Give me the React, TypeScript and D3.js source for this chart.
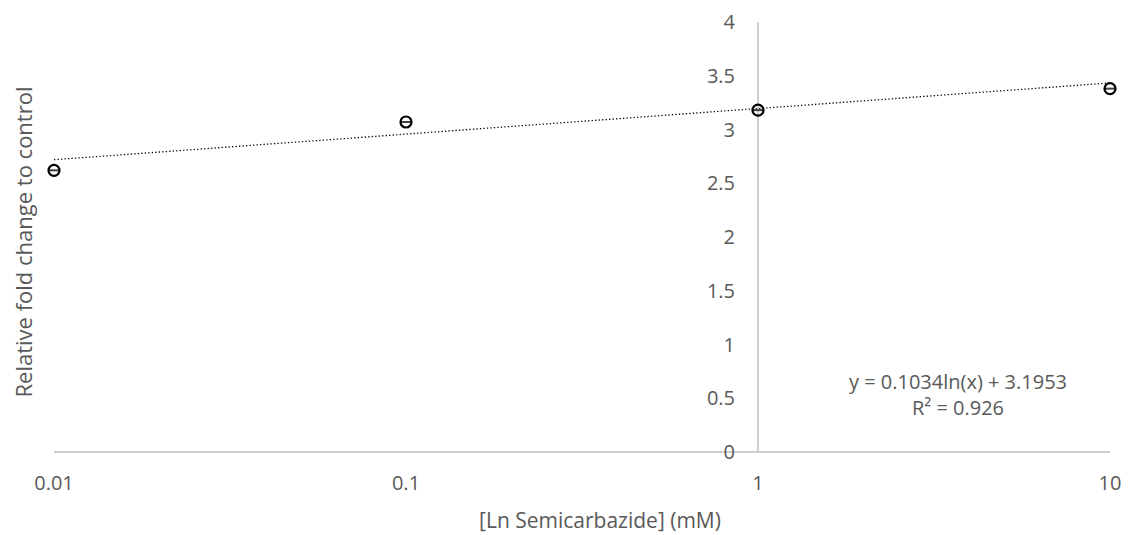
import { useEffect, useRef } from 'react';
import * as d3 from 'd3';

// concentrations (mM) and relative fold change
const conc = [0.01, 0.1, 1, 10];
const foldChange = [2.62, 3.07, 3.18, 3.38];
const xTicks = [0.01, 0.1, 1, 10];
const yTicks = [0, 0.5, 1, 1.5, 2, 2.5, 3, 3.5, 4];
// logarithmic trendline shown on the chart
const trendSlope = 0.1034;
const trendIntercept = 3.1953;
const trendR2 = 0.926;

const FONT = 'Open Sans, Lato, sans-serif';
const TEXT = '#595959';
const AXIS = '#bfbfbf';

export default function App() {
  const ref = useRef<SVGSVGElement>(null);

  useEffect(() => {
    if (!ref.current) return;
    const svg = d3.select(ref.current);
    svg.selectAll('*').remove();

    const W = 1135;
    const H = 535;
    const left = 54;
    const right = 1110;
    const top = 22;
    const bottom = 452;

    const x = d3.scaleLog().domain([0.01, 10]).range([left, right]);
    const y = d3.scaleLinear().domain([0, 4]).range([bottom, top]);

    svg.attr('width', W).attr('height', H).attr('viewBox', `0 0 ${W} ${H}`);

    // axes (vertical axis crosses at x = 1)
    svg.append('line')
      .attr('x1', left).attr('x2', right)
      .attr('y1', y(0)).attr('y2', y(0))
      .attr('stroke', AXIS).attr('stroke-width', 1.5);
    svg.append('line')
      .attr('x1', x(1)).attr('x2', x(1))
      .attr('y1', y(0)).attr('y2', y(4))
      .attr('stroke', AXIS).attr('stroke-width', 1.5);

    // y tick labels
    svg.append('g')
      .selectAll('text')
      .data(yTicks)
      .join('text')
      .attr('x', x(1) - 23)
      .attr('y', (d) => y(d))
      .attr('dy', '0.35em')
      .attr('text-anchor', 'end')
      .attr('fill', TEXT)
      .attr('font-size', '20px')
      .attr('font-family', FONT)
      .text((d) => String(d));

    // x tick labels
    svg.append('g')
      .selectAll('text')
      .data(xTicks)
      .join('text')
      .attr('x', (d) => x(d))
      .attr('y', 490)
      .attr('text-anchor', 'middle')
      .attr('fill', TEXT)
      .attr('font-size', '20px')
      .attr('font-family', FONT)
      .text((d) => String(d));

    // axis titles
    svg.append('text')
      .attr('x', 600)
      .attr('y', 528)
      .attr('text-anchor', 'middle')
      .attr('fill', TEXT)
      .attr('font-size', '21px')
      .attr('font-family', FONT)
      .text('[Ln Semicarbazide] (mM)');

    svg.append('text')
      .attr('transform', `translate(32,242) rotate(-90)`)
      .attr('text-anchor', 'middle')
      .attr('fill', TEXT)
      .attr('font-size', '22px')
      .attr('font-family', FONT)
      .text('Relative fold change to control');

    // trendline
    const trendPts = d3.range(0, 101).map((i) => {
      const xv = Math.pow(10, -2 + (3 * i) / 100);
      return [x(xv), y(trendSlope * Math.log(xv) + trendIntercept)] as [number, number];
    });
    svg.append('path')
      .attr('d', d3.line()(trendPts))
      .attr('fill', 'none')
      .attr('stroke', '#000')
      .attr('stroke-width', 1.3)
      .attr('stroke-dasharray', '1.3,2.2');

    // markers with small error bar caps
    const pts = conc.map((c, i) => ({ c, v: foldChange[i] }));
    const g = svg.append('g');
    g.selectAll('line.err')
      .data(pts)
      .join('line')
      .attr('class', 'err')
      .attr('x1', (d) => x(d.c) - 5.5)
      .attr('x2', (d) => x(d.c) + 5.5)
      .attr('y1', (d) => y(d.v))
      .attr('y2', (d) => y(d.v))
      .attr('stroke', '#404040')
      .attr('stroke-width', 2);
    g.selectAll('circle')
      .data(pts)
      .join('circle')
      .attr('cx', (d) => x(d.c))
      .attr('cy', (d) => y(d.v))
      .attr('r', 5.5)
      .attr('fill', 'none')
      .attr('stroke', '#000')
      .attr('stroke-width', 2.2);

    // equation label
    const eq = svg.append('text')
      .attr('text-anchor', 'middle')
      .attr('fill', TEXT)
      .attr('font-size', '20px')
      .attr('font-family', FONT);
    eq.append('tspan')
      .attr('x', 958).attr('y', 389)
      .text(`y = ${trendSlope}ln(x) + ${trendIntercept}`);
    eq.append('tspan')
      .attr('x', 958).attr('y', 415)
      .text(`R² = ${trendR2}`);
  }, []);

  return <svg ref={ref} style={{ position: 'absolute', left: 0, top: 0, background: '#fff' }} />;
}
